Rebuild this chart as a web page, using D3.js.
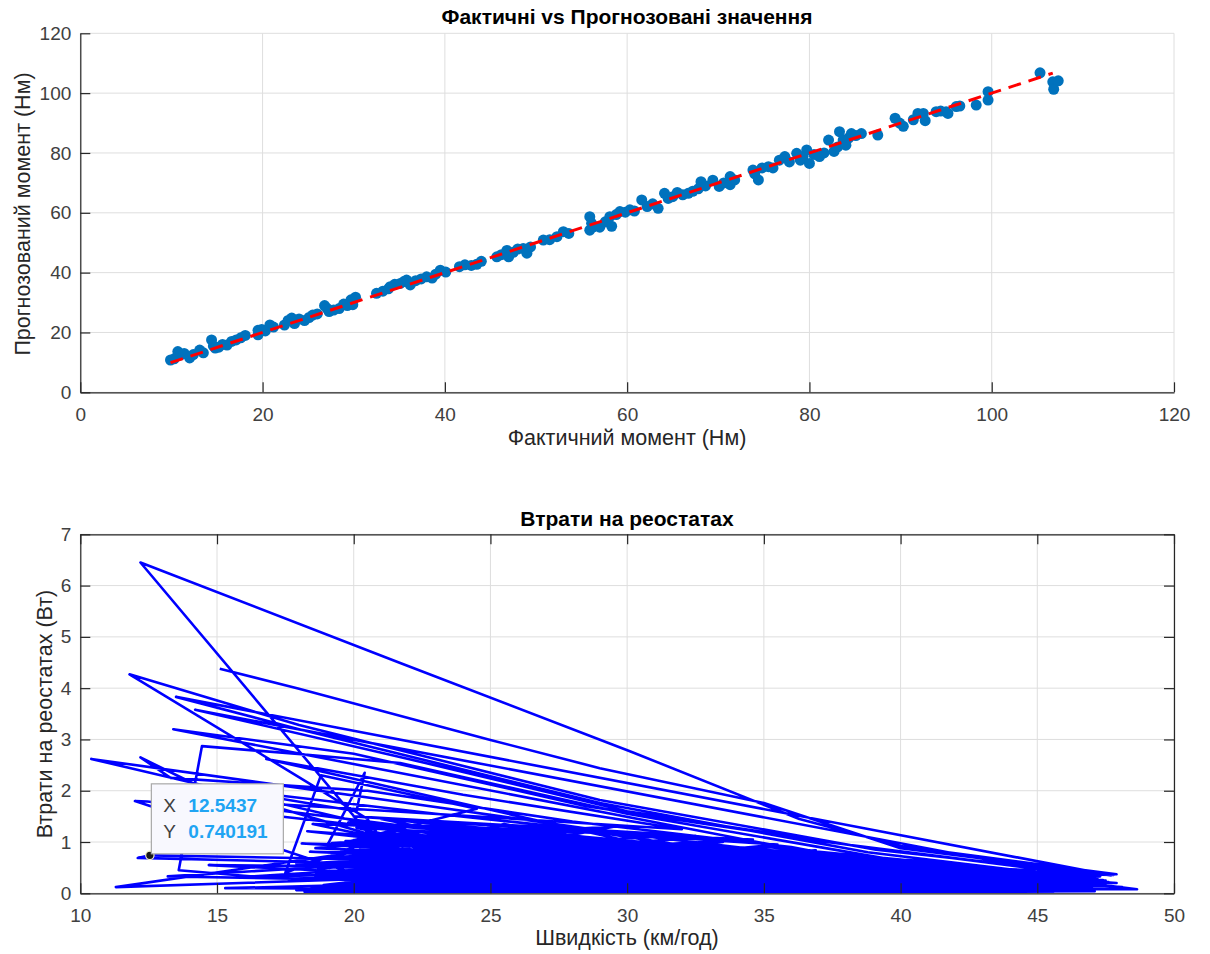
<!DOCTYPE html>
<html>
<head>
<meta charset="utf-8">
<script src="https://cdn.jsdelivr.net/npm/d3@7"></script>
<style>
  html, body { margin: 0; padding: 0; background: #ffffff; }
  svg { display: block; }
  text { font-family: "Liberation Sans", Arial, Helvetica, sans-serif; }
</style>
</head>
<body>
<svg id="chart" width="1210" height="954"></svg>
<script>
// ---------------- DATA ----------------
const topTitle = "Фактичні vs Прогнозовані значення";
const topXLabel = "Фактичний момент (Нм)";
const topYLabel = "Прогнозований момент (Нм)";
const topTicks = [0, 20, 40, 60, 80, 100, 120];

// [actual, predicted] torque pairs
const torquePairs = [
  [9.9,10.8],[10.3,11.2],[10.7,13.6],[11.0,12.5],[11.4,13.0],[12.0,11.5],[12.4,12.6],[13.1,14.1],[13.5,13.2],
  [14.4,17.5],[14.6,15.5],[14.8,14.8],[15.2,15.1],[15.6,16.0],[16.1,15.8],[16.6,17.0],[17.1,17.5],[17.6,18.2],
  [18.1,19.0],[19.5,19.2],[19.5,20.7],[19.9,21.0],[20.3,20.5],[20.8,22.5],[21.2,21.8],[22.4,22.5],[22.8,24.0],
  [23.2,24.8],[23.5,23.0],[24.0,24.5],[24.6,24.0],[25.1,25.0],[25.5,25.8],[26.0,26.2],[26.8,29.0],[27.1,28.0],
  [27.3,27.0],[27.8,27.5],[28.4,28.0],[28.9,29.5],[29.3,29.0],[29.7,30.9],[29.9,29.3],[30.2,31.8],[32.5,33.1],
  [33.2,33.8],[33.8,34.6],[34.0,35.3],[34.5,36.1],[35.1,36.4],[35.5,37.0],[35.8,37.5],[36.2,35.9],[36.8,37.3],
  [37.4,37.9],[38.0,38.6],[38.6,38.2],[39.0,39.5],[39.5,40.8],[40.1,40.2],[41.6,42.0],[42.2,42.6],[42.9,42.4],
  [43.5,42.8],[44.0,43.8],[45.7,45.3],[46.2,46.0],[46.8,47.4],[47.0,45.3],[47.5,46.8],[48.0,47.9],[48.6,48.1],
  [49.0,46.5],[49.4,48.6],[50.8,50.9],[51.5,51.0],[52.3,52.0],[53.0,53.7],[53.6,53.1],[55.9,58.7],[55.9,54.2],
  [56.1,56.5],[56.3,55.3],[57.0,55.2],[57.6,57.0],[58.1,58.7],[58.3,55.5],[58.8,59.4],[59.2,60.4],[59.8,60.2],
  [60.3,61.0],[60.8,60.6],[61.6,64.3],[62.2,62.1],[62.8,63.0],[63.4,61.5],[64.1,66.5],[64.5,64.8],[65.0,65.4],
  [65.5,66.8],[66.1,66.0],[66.7,66.5],[67.2,67.2],[67.8,68.0],[68.1,70.4],[68.6,69.0],[69.4,70.9],[70.1,68.8],
  [70.6,70.0],[71.3,72.1],[71.3,69.4],[71.8,71.0],[73.8,74.3],[74.0,73.0],[74.4,71.0],[74.8,75.0],[75.5,75.4],
  [76.0,75.0],[76.7,77.6],[77.3,78.8],[77.8,77.0],[78.6,79.9],[79.0,77.6],[79.3,78.8],[79.7,81.0],[80.0,76.5],
  [80.5,79.5],[81.1,78.8],[81.6,80.0],[82.1,84.3],[82.7,80.5],[83.1,82.0],[83.3,87.1],[83.7,84.3],[84.0,82.6],
  [84.3,85.0],[84.6,86.5],[85.1,85.8],[85.7,86.5],[87.5,86.0],[89.4,91.6],[89.9,90.0],[90.3,88.9],[91.4,91.1],
  [91.9,93.2],[92.5,93.2],[92.7,90.8],[93.9,93.8],[94.4,94.0],[95.0,93.8],[95.2,93.2],[96.1,95.5],[96.5,95.7],
  [98.3,96.0],[99.6,100.5],[99.6,97.7],[105.3,106.8],[106.7,103.8],[106.8,101.3],[107.3,104.1]
];
// ideal y = x reference line endpoints
const idealLine = [9.9, 106.7];

const botTitle = "Втрати на реостатах";
const botXLabel = "Швидкість (км/год)";
const botYLabel = "Втрати на реостатах (Вт)";
const botXTicks = [10, 15, 20, 25, 30, 35, 40, 45, 50];
const botYTicks = [0, 1, 2, 3, 4, 5, 6, 7];

// [speed, loss] samples in recorded order
const lossSeries = [
  [15.1,4.38],[18.0,3.99],[25.0,2.99],[29.0,2.44],[35.0,1.76],[40.0,0.88],[47.8,0.36],
  [43.9,0.40],[29.6,1.02],[20.0,0.19],[37.4,0.15],[25.3,0.63],[48.1,0.12],[32.8,0.66],[18.4,0.81],
  [40.7,0.26],[27.1,0.41],[45.1,0.05],[22.3,0.71],[34.6,1.05],[19.8,1.38],[39.2,0.55],[28.3,0.08],
  [46.2,0.27],[31.0,0.50],[23.9,1.10],[11.3,0.12],[22.0,0.31],[17.9,0.06],[31.0,0.11],[18.6,0.40],
  [33.5,0.45],[21.2,0.88],[44.6,0.22],[26.4,0.74],[18.3,1.21],[39.8,0.38],[23.5,0.15],
  [47.9,0.37],[40.0,0.92],[36.3,1.45],[30.1,2.77],[21.7,4.49],[12.2,6.45],[20.8,1.00],
  [28.9,0.55],[20.4,1.05],[36.2,0.62],[17.6,0.28],[42.3,0.12],[31.4,0.82],[22.8,1.32],[45.5,0.31],
  [27.7,0.21],[19.1,0.44],[38.6,0.70],[24.9,0.97],[46.8,0.18],[30.2,0.36],[18.8,0.09],[41.5,0.48],
  [26.0,1.18],[35.1,0.28],[21.7,0.52],
  [20.5,1.45],[16.5,2.75],[11.8,4.27],[18.0,3.28],[29.0,1.82],[39.1,0.85],[47.7,0.35],
  [13.5,3.83],[18.0,3.20],[29.0,1.76],[38.8,0.80],[46.9,0.28],
  [14.2,3.58],[22.0,2.62],[30.0,1.60],[38.0,0.95],[45.8,0.42],
  [42.8,0.33],[26.8,0.25],[36.9,0.84],[20.9,0.34],[44.1,0.14],[29.2,0.77],[17.9,0.58],[38.1,0.21],
  [24.4,0.46],[47.6,0.22],[33.0,0.18],[21.5,1.22],[41.2,0.62],[27.5,0.93],[35.8,0.38],[19.3,0.72],
  [43.4,0.27],[30.7,0.13],[25.8,0.30],[46.0,0.38],[32.1,0.95],[22.6,0.58],[39.5,0.09],[28.0,0.68],
  [18.6,0.32],[37.8,0.48],[24.1,0.82],[44.9,0.45],[30.0,0.24],[20.6,0.78],[40.3,0.43],
  [13.4,3.20],[20.0,2.72],[28.5,1.70],[37.0,1.02],[47.3,0.33],
  [42.0,0.19],[26.6,1.05],[34.2,0.56],[19.9,0.11],[23.1,0.40],[47.0,0.30],[31.8,0.31],[21.0,1.45],
  [36.5,0.72],[27.9,0.16],[16.9,0.30],
  [13.6,0.45],[14.45,2.87],[18.3,2.70],[21.7,2.54],[30.0,1.55],[39.0,0.72],[45.8,0.10],
  [25.1,0.55],[38.9,0.34],[18.1,0.97],[33.7,0.78],[22.0,0.26],[43.0,0.52],[29.9,0.62],[24.6,0.12],
  [41.8,0.28],[26.2,0.88],[35.4,0.48],[20.3,0.66],[46.4,0.15],[31.6,0.20],[23.7,0.95],
  [10.4,2.62],[21.7,1.78],[30.0,1.15],[38.5,0.62],[47.5,0.25],
  [39.0,0.62],[28.6,0.34],[19.0,0.52],[37.1,0.27],[25.5,1.12],[44.4,0.36],[32.4,0.58],[21.9,0.38],
  [47.9,0.20],[30.4,0.86],[18.9,0.16],[42.5,0.41],[27.3,0.62],[34.9,0.14],[23.3,0.73],[14.1,2.15],
  [12.2,2.65],[13.3,2.25],[20.5,2.00],[28.0,1.40],[36.0,0.90],
  [40.0,0.50],[26.9,0.36],[45.3,0.24],[29.4,0.45],[20.7,0.92],[38.3,0.10],[24.2,0.28],[36.0,0.58],
  [19.5,1.15],[43.7,0.18],[31.2,0.70],[22.5,0.48],[46.6,0.34],[28.2,1.00],[33.9,0.31],[21.4,0.14],
  [12.0,1.80],[12.45,1.79],[26.5,0.95],[44.0,0.28],[33.3,0.86],[21.8,0.64],[40.5,0.16],[28.5,0.48],
  [12.1,0.69],[12.5437,0.740191],[25.0,0.62],[16.0,0.32],[38.0,0.58],[25.0,0.40],[43.2,0.09],
  [31.5,0.62],[20.8,0.45],[47.4,0.26],[34.4,0.25],[27.6,0.80],[13.2,0.33],[24.0,0.22],[15.3,0.10],
  [36.0,0.05],[19.7,0.23],[32.2,0.07],[45.6,0.03],[23.8,0.06],[40.9,0.08],[28.7,0.03],[47.1,0.04],
  [21.1,0.09],[35.3,0.10],[26.1,0.04],[43.5,0.06],[30.8,0.19],[18.2,0.03],[38.7,0.04],[25.7,0.17],
  [44.7,0.12],[33.6,0.03],[22.4,0.12],[41.6,0.05],[29.8,0.09],[46.3,0.21],[34.1,0.12],[24.3,0.05],
  [39.4,0.16],[27.4,0.11],[48.65,0.08],[47.7,0.14],[37.2,0.09],[20.9,0.05],[42.7,0.03],[31.3,0.04],
  [45.9,0.17],[35.9,0.15],[19.4,0.14],[28.1,0.22],[43.9,0.11],[33.1,0.22],[25.4,0.09],[40.2,0.06],
  [47.0,0.10],[36.8,0.20],
  [16.8,2.62],[24.0,1.92],[32.0,1.25],[13.8,1.85],[22.0,1.30],[17.5,0.40],[18.8,2.30],[24.5,1.65],
  [19.0,0.90],[20.4,2.35],[20.1,1.60],[15.0,2.05],[23.0,1.55],[31.0,1.10],
  [23.0,0.88],[37.5,0.53],[27.2,1.12],[42.9,0.44],[30.3,0.76],[21.3,0.61],[45.2,0.33],[33.8,0.51],
  [24.7,0.79],[39.6,0.42],[28.8,0.90],[19.6,0.82],[36.4,0.35],[26.3,0.52],[44.3,0.30],[31.9,0.47],
  [22.2,1.02],[41.3,0.55],[29.5,0.38],[46.7,0.25],[34.7,0.67],[25.2,0.88],[38.4,0.46],[20.5,0.40],
  [43.6,0.47],[32.7,0.80],[27.8,0.58],[47.2,0.29],[35.2,0.90],[23.4,0.51],[14.7,0.55],[29.0,0.18],
  [18.5,1.35],[27.0,1.20],[21.0,0.70],[33.0,0.95],[19.2,0.98],[29.5,1.30],[23.0,0.62],[36.5,0.80],
  [20.1,1.28],[26.0,0.55],[31.5,1.05],[18.7,0.48],[25.5,1.35],[34.0,0.60],[22.0,1.15],[39.0,0.45],
  [24.0,1.25],[30.5,0.98],[21.6,0.83],[37.8,0.68],[19.7,1.02],[28.0,1.15],[23.6,0.35],[35.5,0.95],
  [20.0,1.50],[32.5,1.12],[26.8,0.68],[41.0,0.62],[22.9,1.05],[29.0,0.42],[18.9,0.70],[33.5,1.00],
  [24.5,0.58],[43.0,0.40],[27.7,1.05],[21.2,0.28],[36.0,0.46],[19.4,0.60],[31.0,0.88],[25.9,1.25],
  [38.5,0.52],[22.4,0.92],[30.0,0.52],[20.6,1.18],[34.8,0.82],[27.0,0.30],[44.5,0.38],[23.8,0.68],
  [32.0,0.25],[19.0,0.33],[28.5,0.78],[37.0,0.58],[21.8,1.08],[26.4,0.95],[40.0,0.34],[24.9,0.45],
  [35.0,0.35],[20.4,0.52],[31.0,0.63],[22.7,0.20],[42.0,0.50],[29.2,0.95],[18.3,0.58],[33.2,0.54],
  [25.7,0.50],[45.6,0.30],[30.8,0.40],[21.4,0.96],[38.0,0.40],[27.3,0.45],[23.2,1.20],[34.0,0.44],
  [19.5,0.42],[29.8,0.72],[24.3,1.05],[41.5,0.38],[26.0,0.86],[32.3,0.72],[20.2,0.85],[36.2,0.50],
  [28.0,0.28],[46.0,0.20],[22.1,0.46],[30.2,0.66],[25.1,0.74],[43.8,0.30],[18.6,0.88],[27.6,1.30],
  [35.8,0.62],[21.0,1.12],[31.6,0.85],[23.5,0.55],[39.8,0.50],[26.7,0.60],[33.6,0.70],[20.0,0.60],
  [37.5,0.30],[24.0,0.35],[29.0,1.05],[45.0,0.25],[28.4,0.62],[19.8,0.30],[36.8,0.36],[22.5,0.80],
  [41.0,0.26],[30.0,0.80],[25.0,0.22],[47.5,0.15],[34.5,0.38],[21.3,0.42],[32.0,0.55],[26.5,0.40],
  [39.2,0.28]
];

// data tip
const tipPoint = { x: 12.5437, y: 0.740191 };
const tipLabels = ["X", "Y"];
const tipValues = ["12.5437", "0.740191"];

// ---------------- DRAW ----------------
const svg = d3.select("#chart");
const axisColor = "#262626";
const gridColor = "#dedede";
const tickFont = 19;
const labelFont = 21.5;
const titleFont = 21;

function styleAxis(g) {
  g.selectAll("path.domain").attr("stroke", axisColor).attr("stroke-width", 1.2);
  g.selectAll(".tick line").attr("stroke", axisColor).attr("stroke-width", 1.2);
  g.selectAll(".tick text").attr("fill", "#404040").attr("font-size", tickFont)
    .attr("font-family", "Liberation Sans, Arial, sans-serif");
}

// ----- Top chart -----
const T = { left: 80.3, right: 1174, top: 33.3, bottom: 392.3 };
const xT = d3.scaleLinear().domain([0, 120]).range([T.left, T.right]);
const yT = d3.scaleLinear().domain([0, 120]).range([T.bottom, T.top]);

const gT = svg.append("g");
gT.append("g").selectAll("line").data(topTicks).join("line")
  .attr("x1", d => xT(d)).attr("x2", d => xT(d)).attr("y1", T.top).attr("y2", T.bottom)
  .attr("stroke", gridColor).attr("stroke-width", 1);
gT.append("g").selectAll("line").data(topTicks).join("line")
  .attr("y1", d => yT(d)).attr("y2", d => yT(d)).attr("x1", T.left).attr("x2", T.right)
  .attr("stroke", gridColor).attr("stroke-width", 1);

gT.append("g").selectAll("circle").data(torquePairs).join("circle")
  .attr("cx", d => xT(d[0])).attr("cy", d => yT(d[1])).attr("r", 5.5)
  .attr("fill", "#0072BD");

gT.append("path")
  .datum(idealLine.map(v => [v, v]))
  .attr("d", d3.line().x(d => xT(d[0])).y(d => yT(d[1])))
  .attr("fill", "none").attr("stroke", "#ff0000").attr("stroke-width", 3)
  .attr("stroke-dasharray", "13,8");

const axTB = gT.append("g").attr("transform", `translate(0,${T.bottom})`)
  .call(d3.axisBottom(xT).tickValues(topTicks).tickFormat(d3.format("d"))
    .tickSizeInner(-10).tickSizeOuter(0).tickPadding(15));
styleAxis(axTB);
const axTL = gT.append("g").attr("transform", `translate(${T.left},0)`)
  .call(d3.axisLeft(yT).tickValues(topTicks).tickFormat(d3.format("d"))
    .tickSizeInner(-10).tickSizeOuter(0).tickPadding(9));
styleAxis(axTL);

gT.append("text").attr("x", 627).attr("y", 24).attr("text-anchor", "middle")
  .attr("font-size", titleFont).attr("font-weight", "bold").attr("fill", "#000").text(topTitle);
gT.append("text").attr("x", 627).attr("y", 445).attr("text-anchor", "middle")
  .attr("font-size", labelFont).attr("fill", "#262626").text(topXLabel);
gT.append("text").attr("transform", "translate(22,214) rotate(-90)").attr("dy", "0.35em")
  .attr("text-anchor", "middle").attr("font-size", labelFont).attr("fill", "#262626").text(topYLabel);

// ----- Bottom chart -----
const B = { left: 80.3, right: 1174, top: 534.3, bottom: 893.3 };
const xB = d3.scaleLinear().domain([10, 50]).range([B.left, B.right]);
const yB = d3.scaleLinear().domain([0, 7]).range([B.bottom, B.top]);

const gB = svg.append("g");
gB.append("g").selectAll("line").data(botXTicks).join("line")
  .attr("x1", d => xB(d)).attr("x2", d => xB(d)).attr("y1", B.top).attr("y2", B.bottom)
  .attr("stroke", gridColor).attr("stroke-width", 1);
gB.append("g").selectAll("line").data(botYTicks).join("line")
  .attr("y1", d => yB(d)).attr("y2", d => yB(d)).attr("x1", B.left).attr("x2", B.right)
  .attr("stroke", gridColor).attr("stroke-width", 1);

gB.append("path").datum(lossSeries)
  .attr("d", d3.line().x(d => xB(d[0])).y(d => yB(d[1])))
  .attr("fill", "none").attr("stroke", "#0000ff").attr("stroke-width", 2.6)
  .attr("stroke-linejoin", "round");

const axBB = gB.append("g").attr("transform", `translate(0,${B.bottom})`)
  .call(d3.axisBottom(xB).tickValues(botXTicks).tickFormat(d3.format("d"))
    .tickSizeInner(-10).tickSizeOuter(0).tickPadding(15));
styleAxis(axBB);
const axBL = gB.append("g").attr("transform", `translate(${B.left},0)`)
  .call(d3.axisLeft(yB).tickValues(botYTicks).tickFormat(d3.format("d"))
    .tickSizeInner(-10).tickSizeOuter(0).tickPadding(9));
styleAxis(axBL);
const axBT = gB.append("g").attr("transform", `translate(0,${B.top})`)
  .call(d3.axisTop(xB).tickValues(botXTicks).tickSizeInner(-10).tickSizeOuter(0).tickFormat(""));
styleAxis(axBT);
const axBR = gB.append("g").attr("transform", `translate(${B.right},0)`)
  .call(d3.axisRight(yB).tickValues(botYTicks).tickSizeInner(-10).tickSizeOuter(0).tickFormat(""));
styleAxis(axBR);

gB.append("text").attr("x", 627).attr("y", 526).attr("text-anchor", "middle")
  .attr("font-size", titleFont).attr("font-weight", "bold").attr("fill", "#000").text(botTitle);
gB.append("text").attr("x", 627).attr("y", 945).attr("text-anchor", "middle")
  .attr("font-size", labelFont).attr("fill", "#262626").text(botXLabel);
gB.append("text").attr("transform", "translate(44,714) rotate(-90)").attr("dy", "0.35em")
  .attr("text-anchor", "middle").attr("font-size", labelFont).attr("fill", "#262626").text(botYLabel);

// data tip
const tx = xB(tipPoint.x), ty = yB(tipPoint.y);
gB.append("circle").attr("cx", tx).attr("cy", ty).attr("r", 4.2)
  .attr("fill", "#1a1a1a").attr("stroke", "#f5f0c8").attr("stroke-width", 1.2);
const tip = gB.append("g").attr("transform", `translate(${tx + 1.5},${ty - 71.5})`);
tip.append("rect").attr("x", 0).attr("y", 0).attr("width", 132).attr("height", 70)
  .attr("fill", "#f8f8fe").attr("stroke", "#a8a8a8").attr("stroke-width", 1.2);
tip.selectAll("text.lab").data(tipLabels).join("text")
  .attr("x", 12).attr("y", (d, i) => 28 + i * 26)
  .attr("font-size", 19).attr("fill", "#404040").text(d => d);
tip.selectAll("text.val").data(tipValues).join("text")
  .attr("x", 37).attr("y", (d, i) => 28 + i * 26)
  .attr("font-size", 19).attr("font-weight", "bold").attr("fill", "#20a4f3").text(d => d);
</script>
</body>
</html>
